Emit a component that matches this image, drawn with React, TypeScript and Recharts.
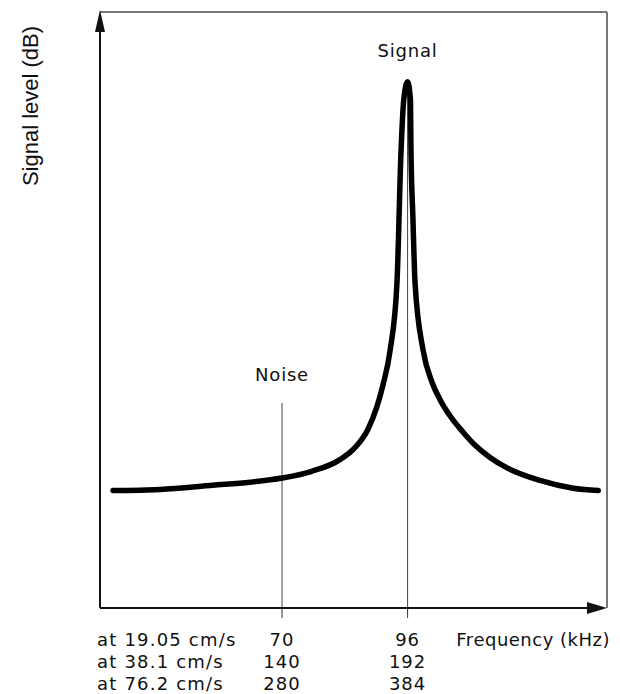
import { LineChart, Line, XAxis, YAxis, ReferenceLine } from "recharts";

// curve: frequency (kHz, 19.05 cm/s scale) vs level (arbitrary dB)
const freqKHz = [
  35.0, 44.7, 55.7, 63.4, 70.0, 76.0, 82.0, 85.1, 87.8, 89.5, 90.9, 92.4, 93.8, 94.65, 95.2,
  96.0, 96.6, 96.7, 97.1, 97.55, 99.2, 101.1, 102.7, 105.0, 107.5, 110.0, 113.0, 116.6, 123.4,
  130.3, 135.5,
];
const levelDb = [
  19.7, 19.9, 20.6, 21.1, 21.8, 22.9, 24.9, 26.9, 30.0, 33.4, 37.4, 43.3, 54.5, 76.8, 85.2,
  88.3, 85.2, 76.8, 65.6, 54.5, 43.3, 37.8, 35.0, 32.0, 29.5, 27.3, 25.3, 23.5, 21.4, 20.1,
  19.7,
];

const tapeSpeeds = ["19.05", "38.1", "76.2"];
const tickFreqs = [70, 96];
const noiseFreqs = [70, 140, 280];
const signalFreqs = [96, 192, 384];

const noiseLevel = 34.4;
const peakLevel = 88.3;
const xDomain = [32.3, 137.3];
const yDomain = [0, 100];

const data = freqKHz.map((f, i) => ({ f, level: levelDb[i] }));

const FUTURA = "'DejaVu Sans', sans-serif";
const ROW_BASE = 28;
const ROW_GAP = 21.8;

function FreqTick(props: any) {
  const { x, y, payload } = props;
  const col = payload.value === tickFreqs[0] ? noiseFreqs : signalFreqs;
  return (
    <g>
      {col.map((v, i) => (
        <text
          key={v}
          x={x}
          y={y + ROW_BASE + i * ROW_GAP}
          textAnchor="middle"
          fontFamily={FUTURA}
          fontSize={18}
          letterSpacing={1}
          fill="#111"
        >
          {v}
        </text>
      ))}
    </g>
  );
}

function XLabel(props: any) {
  const { x, y, width } = props.viewBox;
  return (
    <g fontFamily={FUTURA} fontSize={18} fill="#111">
      {tapeSpeeds.map((s, i) => (
        <text key={s} x={x - 3} y={y + 38 + i * ROW_GAP} letterSpacing={1.2}>
          {`at ${s} cm/s`}
        </text>
      ))}
      <text x={x + width + 3} y={y + 38} textAnchor="end" letterSpacing={0.5}>
        Frequency (kHz)
      </text>
    </g>
  );
}

function YLabel(props: any) {
  const { x, y } = props.viewBox;
  const cx = x + 30;
  const cy = y + 94;
  return (
    <text
      x={cx}
      y={cy}
      transform={`rotate(-90 ${cx} ${cy})`}
      textAnchor="middle"
      dominantBaseline="central"
      fontFamily="'Liberation Sans', Arial, sans-serif"
      fontSize={22}
      fill="#111"
    >
      Signal level (dB)
    </text>
  );
}

function Arrow(props: any) {
  const { x1, y1, x2, y2 } = props;
  const horiz = Math.abs(x2 - x1) > Math.abs(y2 - y1);
  const head = horiz
    ? `${x2},${y2} ${x2 - 20},${y2 - 6} ${x2 - 20},${y2 + 6}`
    : `${x2},${y2} ${x2 - 5},${y2 + 22} ${x2 + 5},${y2 + 22}`;
  return (
    <g>
      <line x1={x1} y1={y1} x2={horiz ? x2 - 10 : x2} y2={horiz ? y2 : y2 + 10} stroke="#111" strokeWidth={2} />
      <polygon points={head} fill="#111" />
    </g>
  );
}

function TopLabel(text: string, offset: number) {
  return (props: any) => {
    const { x, y } = props.viewBox;
    return (
      <text x={x} y={y - offset} textAnchor="middle" fontFamily={FUTURA} fontSize={18} letterSpacing={0.8} fill="#111">
        {text}
      </text>
    );
  };
}

export default function App() {
  return (
    <div style={{ position: "absolute", left: 0, top: 0, background: "#fff" }}>
      <LineChart width={620} height={694} data={data} margin={{ top: 12, right: 13, bottom: 6, left: 0 }}>
        <XAxis
          type="number"
          dataKey="f"
          domain={xDomain}
          ticks={tickFreqs}
          axisLine={false}
          tickLine={{ stroke: "#333", strokeWidth: 1 }}
          tickSize={10}
          tickMargin={0}
          height={80}
          tick={FreqTick}
          label={XLabel}
          allowDataOverflow
        />
        <YAxis
          type="number"
          domain={yDomain}
          width={100}
          tick={false}
          axisLine={false}
          tickLine={false}
          label={YLabel}
          allowDataOverflow
        />
        <ReferenceLine y={yDomain[1]} stroke="#777" strokeWidth={2} />
        <ReferenceLine x={xDomain[1]} stroke="#777" strokeWidth={2} />
        <ReferenceLine
          segment={[{ x: tickFreqs[0], y: 0 }, { x: tickFreqs[0], y: noiseLevel }]}
          stroke="#444"
          strokeWidth={1}
          label={TopLabel("Noise", 22)}
        />
        <ReferenceLine
          segment={[{ x: tickFreqs[1], y: 0 }, { x: tickFreqs[1], y: peakLevel }]}
          stroke="#444"
          strokeWidth={1}
          label={TopLabel("Signal", 25)}
        />
        <Line
          type="monotone"
          dataKey="level"
          stroke="#000"
          strokeWidth={5.5}
          strokeLinecap="round"
          strokeLinejoin="round"
          dot={false}
          activeDot={false}
          isAnimationActive={false}
        />
        <ReferenceLine
          segment={[{ x: xDomain[0], y: 0 }, { x: xDomain[1], y: 0 }]}
          ifOverflow="visible"
          shape={Arrow}
        />
        <ReferenceLine
          segment={[{ x: xDomain[0], y: 0 }, { x: xDomain[0], y: 100.34 }]}
          ifOverflow="visible"
          shape={Arrow}
        />
      </LineChart>
    </div>
  );
}
